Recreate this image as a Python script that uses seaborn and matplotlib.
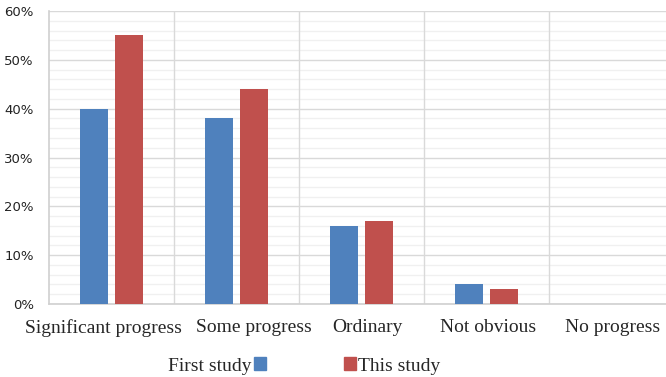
import pandas as pd
import matplotlib.pyplot as plt
import matplotlib.transforms as mtransforms
import seaborn as sns
from matplotlib.patches import Patch
from matplotlib.ticker import MultipleLocator, PercentFormatter

categories = ['Significant progress', 'Some progress', 'Ordinary', 'Not obvious', 'No progress']
first_study = [40, 38, 16, 4, 0]
this_study = [55, 44, 17, 3, 0]
series = ['First study', 'This study']
colors = ['#4F81BD', '#C0504D']

df = pd.DataFrame({
    'category': categories * 2,
    'value': first_study + this_study,
    'study': [series[0]] * len(categories) + [series[1]] * len(categories),
})

sns.set_style('white')
fig = plt.figure(figsize=(6.66, 3.77), dpi=100)
# the original plot area runs slightly past the right edge of the image
ax = fig.add_axes([49 / 666, 1 - 304 / 377, 625 / 666, 293 / 377])

sns.barplot(data=df, x='category', y='value', hue='study', palette=colors,
            saturation=1, width=0.56, gap=0.2, linewidth=0, legend=False,
            ax=ax, zorder=3)

ax.set_xlim(-0.5, 4.5)
ax.set_ylim(0, 60)
ax.yaxis.set_major_locator(MultipleLocator(10))
ax.yaxis.set_minor_locator(MultipleLocator(2))
ax.yaxis.set_major_formatter(PercentFormatter(decimals=0))
ax.grid(axis='y', which='major', color='#d9d9d9', linewidth=1, zorder=0)
ax.grid(axis='y', which='minor', color='#f0f0f0', linewidth=1, zorder=0)
for b in [0.5, 1.5, 2.5, 3.5]:
    ax.axvline(b, color='#d9d9d9', linewidth=1, zorder=1)

for s in ['top', 'right']:
    ax.spines[s].set_visible(False)
for s in ['left', 'bottom']:
    ax.spines[s].set_color('#d0d0d0')
    ax.spines[s].set_linewidth(1.2)

ax.tick_params(axis='both', which='both', length=0)
ax.tick_params(axis='y', labelsize=9.5, labelcolor='#222222', pad=11)
ax.tick_params(axis='x', pad=11)
ax.set_xlabel('')
ax.set_ylabel('')

# Excel nudges the category labels sideways so they don't collide
label_shift = [-8, 17, 6, 2, 1]
for lab, dx in zip(ax.get_xticklabels(), label_shift):
    lab.set_fontfamily('Liberation Serif')
    lab.set_fontsize(14)
    lab.set_transform(lab.get_transform() + mtransforms.ScaledTranslation(dx / 100, 0, fig.dpi_scale_trans))

# legend: Excel-style, marker after first label, before second
leg_font = {'family': 'Liberation Serif', 'size': 14}
fig.legend(handles=[Patch(color=colors[0])], labels=[series[0]], markerfirst=False,
           loc='center', bbox_to_anchor=(217 / 666, 1 - 366 / 377), frameon=False,
           prop=leg_font, handlelength=0.6, handleheight=0.6, handletextpad=0.1)
fig.legend(handles=[Patch(color=colors[1])], labels=[series[1]], markerfirst=True,
           loc='center', bbox_to_anchor=(392 / 666, 1 - 366 / 377), frameon=False,
           prop=leg_font, handlelength=0.6, handleheight=0.6, handletextpad=0.1)

fig.savefig('out.png', dpi=100)
